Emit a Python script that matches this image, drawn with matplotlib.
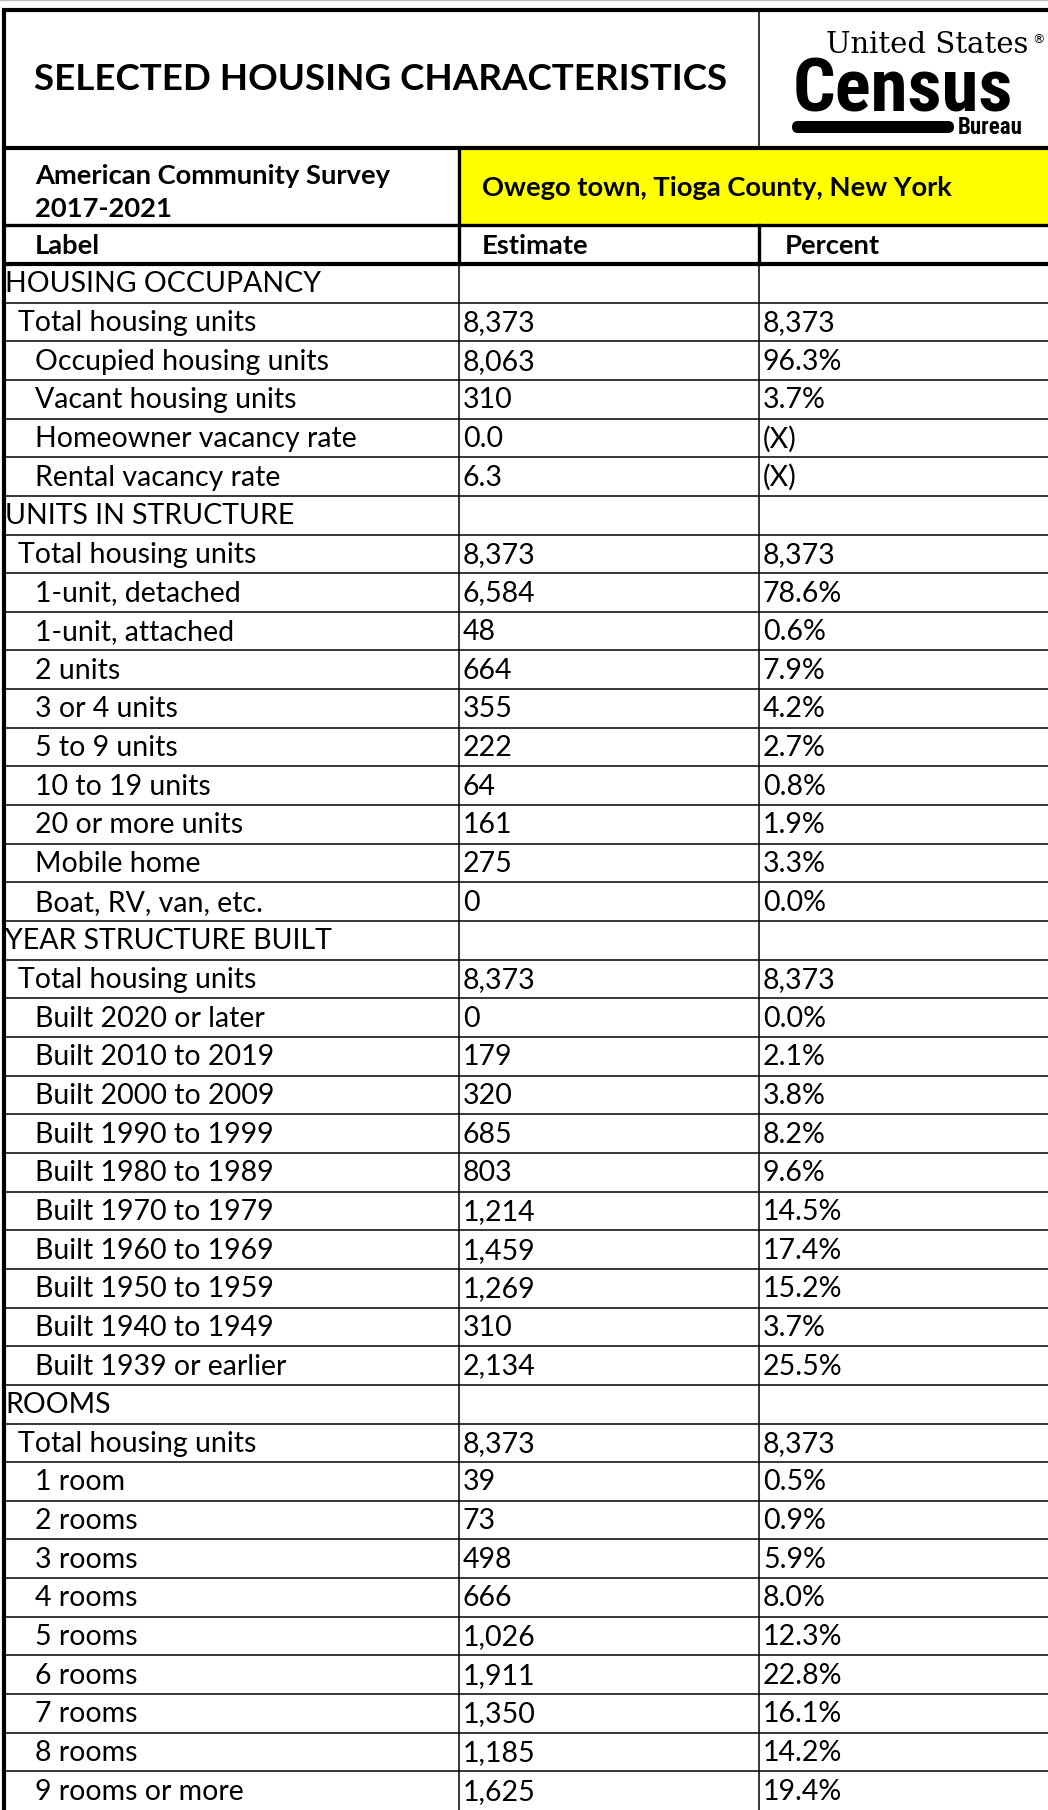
import matplotlib
matplotlib.use("Agg")
import matplotlib.pyplot as plt
from matplotlib.patches import Rectangle, FancyBboxPatch
from matplotlib import font_manager

# ---------------- data ----------------
title = "SELECTED HOUSING CHARACTERISTICS"
survey_lines = ["American Community Survey", "2017-2021"]
geography = "Owego town, Tioga County, New York"
col_headers = ["Label", "Estimate", "Percent"]

sections = ["HOUSING OCCUPANCY", "UNITS IN STRUCTURE", "YEAR STRUCTURE BUILT", "ROOMS"]

occupancy_labels = ["Total housing units", "Occupied housing units", "Vacant housing units",
                    "Homeowner vacancy rate", "Rental vacancy rate"]
occupancy_estimates = ["8,373", "8,063", "310", "0.0", "6.3"]
occupancy_percents = ["8,373", "96.3%", "3.7%", "(X)", "(X)"]

units_labels = ["Total housing units", "1-unit, detached", "1-unit, attached", "2 units",
                "3 or 4 units", "5 to 9 units", "10 to 19 units", "20 or more units",
                "Mobile home", "Boat, RV, van, etc."]
units_estimates = ["8,373", "6,584", "48", "664", "355", "222", "64", "161", "275", "0"]
units_percents = ["8,373", "78.6%", "0.6%", "7.9%", "4.2%", "2.7%", "0.8%", "1.9%", "3.3%", "0.0%"]

year_labels = ["Total housing units", "Built 2020 or later", "Built 2010 to 2019",
               "Built 2000 to 2009", "Built 1990 to 1999", "Built 1980 to 1989",
               "Built 1970 to 1979", "Built 1960 to 1969", "Built 1950 to 1959",
               "Built 1940 to 1949", "Built 1939 or earlier"]
year_estimates = ["8,373", "0", "179", "320", "685", "803", "1,214", "1,459", "1,269", "310", "2,134"]
year_percents = ["8,373", "0.0%", "2.1%", "3.8%", "8.2%", "9.6%", "14.5%", "17.4%", "15.2%", "3.7%", "25.5%"]

rooms_labels = ["Total housing units", "1 room", "2 rooms", "3 rooms", "4 rooms", "5 rooms",
                "6 rooms", "7 rooms", "8 rooms", "9 rooms or more"]
rooms_estimates = ["8,373", "39", "73", "498", "666", "1,026", "1,911", "1,350", "1,185", "1,625"]
rooms_percents = ["8,373", "0.5%", "0.9%", "5.9%", "8.0%", "12.3%", "22.8%", "16.1%", "14.2%", "19.4%"]

section_blocks = [
    (occupancy_labels, occupancy_estimates, occupancy_percents),
    (units_labels, units_estimates, units_percents),
    (year_labels, year_estimates, year_percents),
    (rooms_labels, rooms_estimates, rooms_percents),
]

# ---------------- build rows ----------------
rows = []  # (label, estimate, percent, level)
for sec, (labs, ests, pcts) in zip(sections, section_blocks):
    rows.append((sec, "", "", 0))
    for i, (l, e, p) in enumerate(zip(labs, ests, pcts)):
        rows.append((l, e, p, 1 if i == 0 else 2))

# ---------------- fonts ----------------
installed = {f.name for f in font_manager.fontManager.ttflist}
narrow_candidates = ["Liberation Sans Narrow", "Roboto Condensed", "DejaVu Sans Condensed",
                     "Open Sans Condensed"]
narrow = [n for n in narrow_candidates if n in installed]
if narrow:
    LOGO_FONT, LOGO_STRETCH = narrow[0], "normal"
    census_size, bureau_size = 54, 16.5
else:
    LOGO_FONT, LOGO_STRETCH = "DejaVu Sans", "condensed"
    census_size, bureau_size = 47, 14.5

# ---------------- figure ----------------
W, H = 1048, 1810
fig = plt.figure(figsize=(W / 100, H / 100), dpi=100)
ax = fig.add_axes([0, 0, 1, 1])
ax.set_xlim(0, W)
ax.set_ylim(H, 0)
ax.axis("off")

FONT = "Lato"
BODY = 20.5
BOLD = 19.7
thick = 3.0
thin = 1.1

x_left = 4
x_c1 = 459
x_c2 = 759
y_top = 10
y_head = 148
y_acs = 225
y_lab = 264
row_h = (H - y_lab) / len(rows)

# yellow geography cell
ax.add_patch(Rectangle((x_c1, y_head), W - x_c1, y_acs - y_head, facecolor="#FFFF00",
                       edgecolor="none", zorder=0))

# title
ax.text(x_c2 / 2 + 1, 80, title, ha="center", va="center", fontsize=26.5,
        fontweight="bold", family=FONT, color="black")

# census logo
ax.text(1028, 45, "United States", ha="right", va="center", fontsize=21,
        family="DejaVu Serif", color="black")
ax.text(1038, 40, "®", ha="center", va="center", fontsize=9, family="DejaVu Sans", color="black")
ax.text(903, 112, "Census", ha="center", va="baseline", fontsize=census_size, fontweight="bold",
        family=LOGO_FONT, fontstretch=LOGO_STRETCH, color="black")
ax.add_patch(FancyBboxPatch((792, 121), 162, 12, boxstyle="round,pad=0,rounding_size=6",
                            facecolor="black", edgecolor="none"))
ax.text(958, 134, "Bureau", ha="left", va="baseline", fontsize=bureau_size, fontweight="bold",
        family=LOGO_FONT, fontstretch=LOGO_STRETCH, color="black")

# header texts
ax.text(35, 176, survey_lines[0], ha="left", va="center", fontsize=BOLD, fontweight="bold", family=FONT)
ax.text(35, 209, survey_lines[1], ha="left", va="center", fontsize=BOLD, fontweight="bold", family=FONT)
ax.text(482, 188, geography, ha="left", va="center", fontsize=BOLD, fontweight="bold", family=FONT)
ax.text(35, 246, col_headers[0], ha="left", va="center", fontsize=BOLD, fontweight="bold", family=FONT)
ax.text(482, 246, col_headers[1], ha="left", va="center", fontsize=BOLD, fontweight="bold", family=FONT)
ax.text(785, 246, col_headers[2], ha="left", va="center", fontsize=BOLD, fontweight="bold", family=FONT)

# data rows
indent = {0: 5, 1: 18, 2: 35}
for i, (lab, est, pct, lvl) in enumerate(rows):
    yc = y_lab + (i + 0.5) * row_h + 1
    ax.text(indent[lvl], yc, lab, ha="left", va="center", fontsize=BODY, family=FONT)
    if est:
        ax.text(463, yc, est, ha="left", va="center", fontsize=BODY, family=FONT)
    if pct:
        ax.text(763, yc, pct, ha="left", va="center", fontsize=BODY, family=FONT)

# row lines
for i in range(1, len(rows)):
    y = y_lab + i * row_h
    ax.plot([x_left, W], [y, y], color="black", lw=thin, zorder=3)

# thick header lines
for y in [y_top, y_head, y_lab]:
    ax.plot([x_left - 2, W], [y, y], color="black", lw=thick, zorder=4, solid_capstyle="butt")
ax.plot([x_left, W], [y_acs, y_acs], color="black", lw=thick * 0.8, zorder=4)

# verticals
ax.plot([x_left, x_left], [y_top, H], color="black", lw=thick, zorder=4, solid_capstyle="butt")
ax.plot([x_c2, x_c2], [y_top, y_head], color="black", lw=thin, zorder=4)
ax.plot([x_c1, x_c1], [y_head, y_lab], color="black", lw=thick * 0.8, zorder=4)
ax.plot([x_c2, x_c2], [y_acs, y_lab], color="black", lw=thick * 0.8, zorder=4)
ax.plot([x_c1, x_c1], [y_lab, H], color="black", lw=thin, zorder=4)
ax.plot([x_c2, x_c2], [y_lab, H], color="black", lw=thin, zorder=4)

# faint top line
ax.plot([0, W], [0.5, 0.5], color="#bbbbbb", lw=1, zorder=4)

fig.savefig("out.png", dpi=100)
